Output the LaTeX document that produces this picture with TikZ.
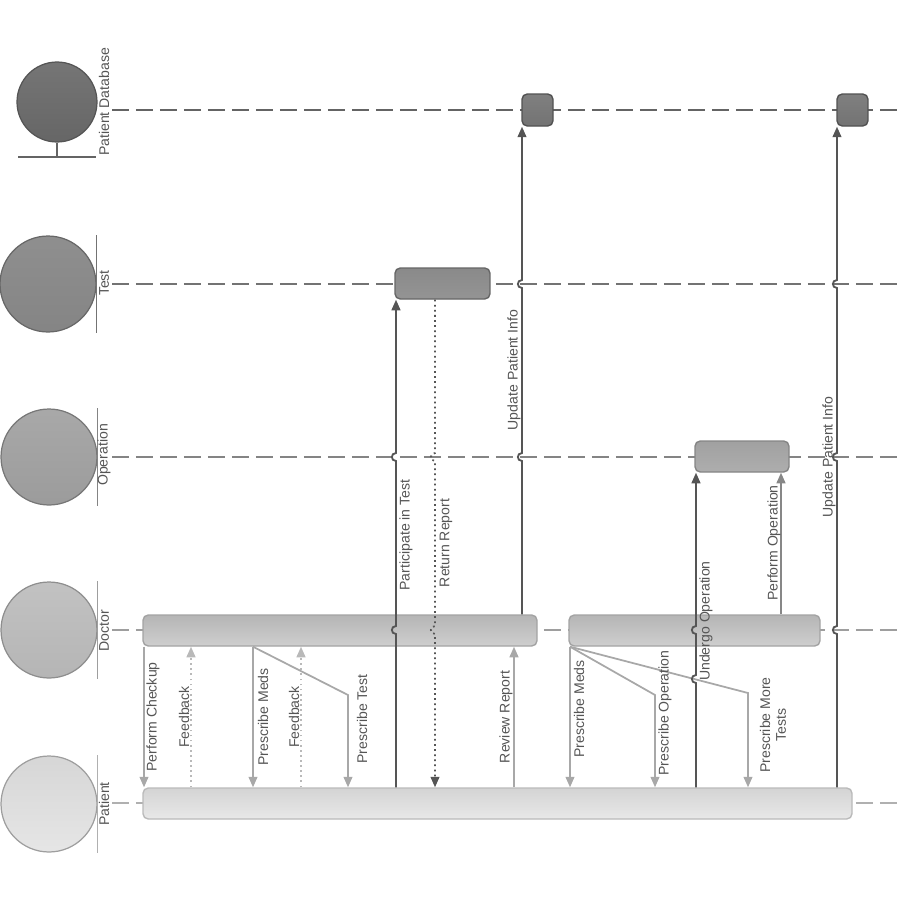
\documentclass[tikz,border=0pt]{standalone}
\usepackage{fontspec}
\setmainfont{Liberation Sans}
\usetikzlibrary{arrows.meta,fit}
% small hop where a message crosses a lifeline (up / down)
\newcommand\jumpat[2]{-- (#1,#2+4) .. controls (#1-5.5,#2+4) and (#1-5.5,#2-4) .. (#1,#2-4)}
\newcommand\jumpdn[2]{-- (#1,#2-4) .. controls (#1-5.5,#2-4) and (#1-5.5,#2+4) .. (#1,#2+4)}
\begin{document}
\begin{tikzpicture}[x=0.02cm,y=-0.02cm,
	every node/.style={font=\fontsize{8}{9}\selectfont,text=txt},
	lbl/.style={rotate=90,inner sep=0,align=center},
	life/.style={line width=1.3pt,dash pattern=on 0.34cm off 0.14cm},
	actor/.style={circle,draw,minimum size=1.92cm,inner sep=0,line width=0.7pt},
	bar/.style={draw,rounded corners=3pt,inner sep=0,line width=0.8pt},
	tip/.style={-{Triangle[length=6pt,width=5pt]}},
	msg/.style={tip,draw=lite,line width=1pt},
	mid/.style={tip,draw=midg,line width=1pt},
	dk/.style={tip,draw=dark,line width=1.05pt},
	fb/.style={tip,draw=dotlite,line width=1pt,dash pattern=on 1pt off 1.9pt},
	ret/.style={tip,draw=dark,line width=1pt,dash pattern=on 1pt off 1.9pt}]
	\definecolor{txt}{RGB}{85,85,85}
	\definecolor{dark}{RGB}{85,85,85}
	\definecolor{midg}{RGB}{135,135,135}
	\definecolor{lite}{RGB}{168,168,168}
	\definecolor{dotlite}{RGB}{185,185,185}
	\definecolor{lpdb}{RGB}{100,100,100}
	\definecolor{ltst}{RGB}{115,115,115}
	\definecolor{lopr}{RGB}{132,132,132}
	\definecolor{ldoc}{RGB}{158,158,158}
	\definecolor{lpat}{RGB}{176,176,176}
	\useasboundingbox (0,0) rectangle (900,900);
	
	%Lifelines
	\draw[life,lpdb] (112,110) -- (900,110);
	\draw[life,ltst] (112,284) -- (900,284);
	\draw[life,lopr] (112,457) -- (900,457);
	\draw[life,ldoc] (112,630) -- (900,630);
	\draw[life,lpat] (112,803) -- (900,803);
	
	%Actors
	\node[actor,minimum size=1.6cm,draw=lpdb!85!black,top color=black!54,bottom color=black!60] (pdb) at (57,102) {};
	\draw[lpdb,line width=1pt] (pdb.south) -- (57,157) (18,157) -- (96,157);
	\node[actor,draw=ltst!90!black,top color=black!44,bottom color=black!48] (tst) at (48,284) {};
	\node[actor,draw=lopr!90!black,top color=black!34,bottom color=black!39] (opr) at (49,457) {};
	\node[actor,draw=ldoc!90!black,top color=black!24,bottom color=black!29] (doc) at (49,630) {};
	\node[actor,draw=lpat!90!black,top color=black!16,bottom color=black!10] (pat) at (49,804) {};
	\draw[ltst,line width=1pt] (tst.east |- tst.north) -- (tst.east |- tst.south);
	\draw[lopr,line width=1pt] (opr.east |- opr.north) -- (opr.east |- opr.south);
	\draw[ldoc,line width=1pt] (doc.east |- doc.north) -- (doc.east |- doc.south);
	\draw[lpat,line width=1pt] (pat.east |- pat.north) -- (pat.east |- pat.south);
	\node[lbl] (npdb) at (104,102) {Patient Database};
	\node[lbl] (ntst) at (104,283) {Test};
	\node[lbl] (nopr) at (104,455) {Operation};
	\node[lbl] (ndoc) at (104,631) {Doctor};
	\node[lbl] (npat) at (104,804) {Patient};
	
	%Activation bars
	\node[bar,draw=black!68,top color=black!50,bottom color=black!55,fit={(522,94) (553,126)}] (pdb1) {};
	\node[bar,draw=black!68,top color=black!50,bottom color=black!55,fit={(837,94) (868,126)}] (pdb2) {};
	\node[bar,draw=black!60,top color=black!46,bottom color=black!42,fit={(395,268) (490,299)}] (tstb) {};
	\node[bar,draw=black!48,top color=black!37,bottom color=black!32,fit={(695,441) (789,472)}] (oprb) {};
	\node[bar,draw=black!36,top color=black!29,bottom color=black!19,fit={(143,615) (537,646)}] (doc1) {};
	\node[bar,draw=black!36,top color=black!29,bottom color=black!19,fit={(569,615) (820,646)}] (doc2) {};
	\node[bar,draw=black!27,top color=black!17,bottom color=black!9,fit={(143,788) (852,819)}] (patb) {};
	
	%Messages
	\draw[msg] (doc1.south -| 144,0) -- (patb.north -| 144,0);
	\draw[fb] (patb.north -| 191,0) -- (doc1.south -| 191,0);
	\draw[msg] (doc1.south -| 253,0) -- (patb.north -| 253,0);
	\draw[fb] (patb.north -| 301,0) -- (doc1.south -| 301,0);
	\draw[msg] (doc1.south -| 253,0) -- (348,695) -- (patb.north -| 348,0);
	\draw[dk] (patb.north -| 396,0) \jumpat{396}{630} \jumpat{396}{457} -- (tstb.south -| 396,0);
	\draw[ret] (tstb.south -| 435,0) \jumpdn{435}{457} \jumpdn{435}{630} -- (patb.north -| 435,0);
	\draw[dk] (doc1.north -| 522,0) \jumpat{522}{457} \jumpat{522}{284} -- (pdb1.south -| 522,0);
	\draw[msg] (patb.north -| 514,0) -- (doc1.south -| 514,0);
	\draw[msg] (doc2.south -| 570,0) -- (patb.north -| 570,0);
	\draw[msg] (doc2.south -| 570,0) -- (655,695) -- (patb.north -| 655,0);
	\draw[msg] (doc2.south -| 570,0) -- (748,693) -- (patb.north -| 748,0);
	\draw[dk] (patb.north -| 696,0) \jumpat{696}{679} \jumpat{696}{630} -- (oprb.south -| 696,0);
	\draw[mid] (doc2.north -| 781,0) -- (oprb.south -| 781,0);
	\draw[dk] (patb.north -| 837,0) \jumpat{837}{630} \jumpat{837}{457} \jumpat{837}{284} -- (pdb2.south -| 837,0);
	
	%Labels
	\node[lbl] (m1) at (153,717) {Perform Checkup};
	\node[lbl] (m2) at (184,717) {Feedback};
	\node[lbl] (m3) at (263,717) {Prescribe Meds};
	\node[lbl] (m4) at (294,717) {Feedback};
	\node[lbl] (m5) at (362,719) {Prescribe Test};
	\node[lbl] (m6) at (406,535) {Participate in Test};
	\node[lbl] (m7) at (446,543) {Return Report};
	\node[lbl] (m8) at (514,370) {Update Patient Info};
	\node[lbl] (m9) at (506,717) {Review Report};
	\node[lbl] (m10) at (579,709) {Prescribe Meds};
	\node[lbl] (m11) at (665,713) {Prescribe Operation};
	\node[lbl] (m12) at (773,725) {Prescribe More\\Tests};
	\node[lbl] (m13) at (706,621) {Undergo Operation};
	\node[lbl] (m14) at (774,543) {Perform Operation};
	\node[lbl] (m15) at (829,457) {Update Patient Info};
\end{tikzpicture}
\end{document}
